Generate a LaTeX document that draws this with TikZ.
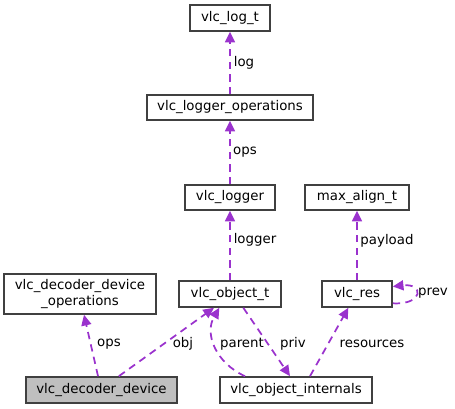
\documentclass[tikz,border=0pt]{standalone}
\usepackage{fontspec}
\setmainfont{DejaVu Sans}
\usetikzlibrary{arrows.meta}
\definecolor{edgec}{HTML}{9A32CD}
\definecolor{boxc}{HTML}{404040}
\definecolor{fillc}{HTML}{BFBFBF}
\begin{document}
\begin{tikzpicture}[x=0.75pt,y=-0.75pt,
  box/.style={draw=boxc,line width=1.2pt,inner sep=0pt,fill=white,
    font=\fontsize{10}{12}\selectfont,align=center},
  rel/.style={draw=edgec,line width=1.3pt,dash pattern=on 5.5pt off 4pt,
    -{Triangle[length=8pt,width=7.5pt]}},
  lbl/.style={font=\fontsize{10}{12}\selectfont,inner sep=0pt}]
\useasboundingbox (0,0) rectangle (455,409);
\node[box,minimum width=60pt,minimum height=19.5pt] (log) at (230,18) {vlc\_log\_t};
\node[box,minimum width=124.5pt,minimum height=18.75pt] (lops) at (230,107.5) {vlc\_logger\_operations};
\node[box,minimum width=67.5pt,minimum height=18.75pt] (logger) at (230,197.5) {vlc\_logger};
\node[box,minimum width=78pt,minimum height=18.75pt] (maxal) at (357,197.5) {max\_align\_t};
\node[box,minimum width=114pt,minimum height=30pt] (ddops) at (80,294) {vlc\_decoder\_device\\\_operations};
\node[box,minimum width=76.5pt,minimum height=19.5pt] (objt) at (230,294) {vlc\_object\_t};
\node[box,minimum width=52.5pt,minimum height=19.5pt] (res) at (357,294) {vlc\_res};
\node[box,fill=fillc,minimum width=113.25pt,minimum height=19.5pt] (dd) at (101.5,390) {vlc\_decoder\_device};
\node[box,minimum width=114pt,minimum height=19.5pt] (oint) at (296,390) {vlc\_object\_internals};

\draw[rel] (lops.north) -- (log.south);
\draw[rel] (logger.north) -- (lops.south);
\draw[rel] (objt.north) -- (logger.south);
\draw[rel] (res.north) -- (maxal.south);
\draw[rel] ([xshift=-2.6pt]dd.north) -- ([xshift=3pt]ddops.south);
\draw[rel] ([xshift=13pt]dd.north) -- ([xshift=-12pt]objt.south);
\draw[rel] ([xshift=-38.25pt]oint.north) .. controls (216,363) and (204,334) .. ([xshift=-8pt]objt.south);
\draw[rel] ([xshift=10pt]objt.south) -- ([xshift=-4.5pt]oint.north);
\draw[rel] ([xshift=10.5pt]oint.north) -- ([xshift=-6.5pt]res.south);
\draw[rel] ([yshift=-7pt]res.east) .. controls (424,305) and (424,283) .. ([yshift=5.6pt]res.east);

\node[lbl] (llog) at (244,63) {log};
\node[lbl] (lops2) at (245,152) {ops};
\node[lbl] (llogger) at (255,240) {logger};
\node[lbl] (lpay) at (387,241) {payload};
\node[lbl] (lops1) at (109,344) {ops};
\node[lbl] (lobj) at (183,344) {obj};
\node[lbl] (lpar) at (242,344) {parent};
\node[lbl] (lpriv) at (293,344) {priv};
\node[lbl] (lres) at (372,344) {resources};
\node[lbl] (lprev) at (433,293) {prev};
\end{tikzpicture}
\end{document}
